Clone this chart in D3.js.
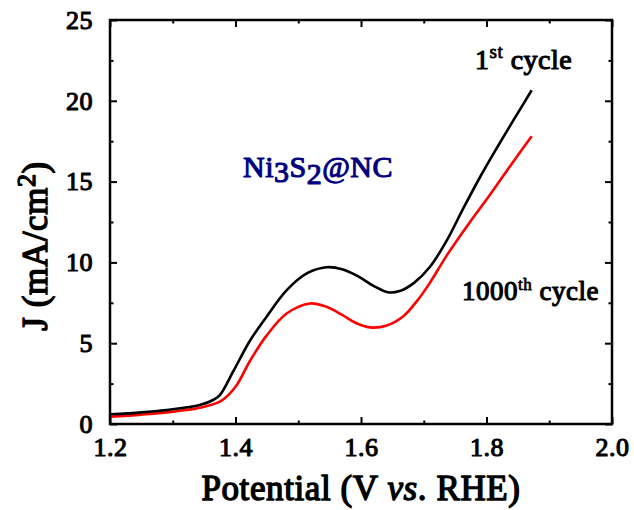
<!DOCTYPE html>
<html>
<head>
<meta charset="utf-8">
<script src="https://cdn.jsdelivr.net/npm/d3@7"></script>
<style>
  body { margin: 0; background: #fff; }
  /* no bold Liberation Serif face is installed: thicken the regular one with a stroke */
  svg text { font-family: "Liberation Serif", serif; font-weight: normal; stroke: #000; stroke-width: 1.1px; stroke-linejoin: round; }
</style>
</head>
<body>
<div id="container"></div>
<script>
/* DATA */
// 1st cycle
var potential1 = [1.20, 1.25, 1.29, 1.343, 1.365, 1.375, 1.397, 1.423, 1.447, 1.482, 1.515, 1.545, 1.570, 1.595, 1.620, 1.643, 1.663, 1.685, 1.710, 1.737, 1.763, 1.790, 1.816, 1.843, 1.872];
var current1   = [0.60, 0.72, 0.87, 1.17, 1.50, 1.79, 3.30, 5.15, 6.50, 8.30, 9.35, 9.70, 9.58, 9.15, 8.55, 8.15, 8.25, 8.75, 9.73, 11.38, 13.34, 15.30, 17.05, 18.80, 20.65];
// 1000th cycle
var potential2 = [1.20, 1.25, 1.29, 1.343, 1.378, 1.400, 1.423, 1.450, 1.482, 1.519, 1.545, 1.570, 1.592, 1.614, 1.640, 1.667, 1.690, 1.710, 1.737, 1.772, 1.805, 1.831, 1.850, 1.872];
var current2   = [0.45, 0.58, 0.72, 1.00, 1.45, 2.30, 3.90, 5.50, 6.85, 7.46, 7.25, 6.75, 6.25, 5.98, 6.08, 6.65, 7.65, 8.75, 10.45, 12.41, 14.16, 15.60, 16.63, 17.81];

var xMajor = [1.2, 1.4, 1.6, 1.8, 2.0];
var xMinor = [1.3, 1.5, 1.7, 1.9];
var yMajor = [0, 5, 10, 15, 20, 25];
var yMinor = [2.5, 7.5, 12.5, 17.5, 22.5];

/* CONSTANTS */
var width = 634,
    height = 510,
    margin = {top: 20, right: 22, bottom: 86, left: 110};

var svg = d3.select('#container').append('svg')
    .attr('width', width)
    .attr('height', height)
    .style('background', '#fff');

/* SCALES */
var xScale = d3.scaleLinear()
    .domain([1.2, 2.0])
    .range([margin.left, width - margin.right]);

var yScale = d3.scaleLinear()
    .domain([0, 25])
    .range([height - margin.bottom, margin.top]);

/* AXES */
function styleAxis(g) {
  g.attr('font-family', null).attr('font-size', 26);
  g.select('.domain').remove();
  g.selectAll('line').attr('stroke', '#000').attr('stroke-width', 2);
  g.selectAll('text').attr('fill', '#000').style('letter-spacing', '0.5px');
}

// bottom
svg.append('g')
  .attr('transform', 'translate(0,' + yScale(0) + ')')
  .call(d3.axisBottom(xScale).tickValues(xMajor).tickSize(-7).tickPadding(14).tickFormat(d3.format('.1f')))
  .call(styleAxis);
svg.append('g')
  .attr('transform', 'translate(0,' + yScale(0) + ')')
  .call(d3.axisBottom(xScale).tickValues(xMinor).tickSize(-3.5).tickFormat(''))
  .call(styleAxis);
// top
svg.append('g')
  .attr('transform', 'translate(0,' + yScale(25) + ')')
  .call(d3.axisTop(xScale).tickValues(xMajor).tickSize(-7).tickFormat(''))
  .call(styleAxis);
svg.append('g')
  .attr('transform', 'translate(0,' + yScale(25) + ')')
  .call(d3.axisTop(xScale).tickValues(xMinor).tickSize(-3.5).tickFormat(''))
  .call(styleAxis);
// left
svg.append('g')
  .attr('transform', 'translate(' + xScale(1.2) + ',0)')
  .call(d3.axisLeft(yScale).tickValues(yMajor).tickSize(-7).tickPadding(17).tickFormat(d3.format('d')))
  .call(styleAxis);
svg.append('g')
  .attr('transform', 'translate(' + xScale(1.2) + ',0)')
  .call(d3.axisLeft(yScale).tickValues(yMinor).tickSize(-3.5).tickFormat(''))
  .call(styleAxis);
// right
svg.append('g')
  .attr('transform', 'translate(' + xScale(2.0) + ',0)')
  .call(d3.axisRight(yScale).tickValues(yMajor).tickSize(-7).tickFormat(''))
  .call(styleAxis);
svg.append('g')
  .attr('transform', 'translate(' + xScale(2.0) + ',0)')
  .call(d3.axisRight(yScale).tickValues(yMinor).tickSize(-3.5).tickFormat(''))
  .call(styleAxis);

/* LINES */
var line = d3.line()
  .x(function(d) { return xScale(d[0]); })
  .y(function(d) { return yScale(d[1]); })
  .curve(d3.curveCatmullRom.alpha(0.5));

svg.append('path')
  .datum(d3.zip(potential2, current2))
  .attr('d', line)
  .attr('fill', 'none')
  .attr('stroke', '#ff0000')
  .attr('stroke-width', 2.6);

svg.append('path')
  .datum(d3.zip(potential1, current1))
  .attr('d', line)
  .attr('fill', 'none')
  .attr('stroke', '#000')
  .attr('stroke-width', 2.6);

// frame
svg.append('rect')
  .attr('x', xScale(1.2))
  .attr('y', yScale(25))
  .attr('width', xScale(2.0) - xScale(1.2))
  .attr('height', yScale(0) - yScale(25))
  .attr('fill', 'none')
  .attr('stroke', '#000')
  .attr('stroke-width', 2.5);

/* LABELS */
svg.append('text')
  .attr('x', (xScale(1.2) + xScale(2.0)) / 2)
  .attr('y', 500)
  .attr('text-anchor', 'middle')
  .style('font-size', '35px')
  .style('stroke-width', '1.4px')
  .style('letter-spacing', '0.6px')
  .call(function(t) {
    t.append('tspan').text('Potential (V ');
    t.append('tspan').style('font-style', 'italic').text('vs');
    t.append('tspan').text('. RHE)');
  });

svg.append('text')
  .attr('transform', 'translate(47,' + 246 + ') rotate(-90)')
  .attr('text-anchor', 'middle')
  .style('font-size', '35px')
  .style('stroke-width', '1.4px')
  .style('letter-spacing', '0.6px')
  .call(function(t) {
    t.append('tspan').text('J (mA/cm');
    t.append('tspan').attr('dy', -12).style('font-size', '26px').text('2');
    t.append('tspan').attr('dy', 12).text(')');
  });

svg.append('text')
  .attr('x', 243)
  .attr('y', 177)
  .attr('fill', '#000080')
  .style('stroke', '#000080')
  .style('font-size', '30px')
  .style('letter-spacing', '0.5px')
  .call(function(t) {
    t.append('tspan').text('Ni');
    t.append('tspan').attr('dy', 5).text('3');
    t.append('tspan').attr('dy', -5).text('S');
    t.append('tspan').attr('dy', 7).text('2');
    t.append('tspan').attr('dy', -7).text('@NC');
  });

svg.append('text')
  .attr('x', 475)
  .attr('y', 69)
  .style('font-size', '28px')
  .style('letter-spacing', '0.5px')
  .call(function(t) {
    t.append('tspan').text('1');
    t.append('tspan').attr('dy', -11).style('font-size', '19px').style('stroke-width', '0.8px').text('st');
    t.append('tspan').attr('dy', 11).text(' cycle');
  });

svg.append('text')
  .attr('x', 462)
  .attr('y', 300)
  .style('font-size', '27px')
  .style('letter-spacing', '0.5px')
  .call(function(t) {
    t.append('tspan').text('1000');
    t.append('tspan').attr('dy', -10).style('font-size', '17px').style('stroke-width', '0.8px').text('th');
    t.append('tspan').attr('dy', 10).text(' cycle');
  });
</script>
</body>
</html>
